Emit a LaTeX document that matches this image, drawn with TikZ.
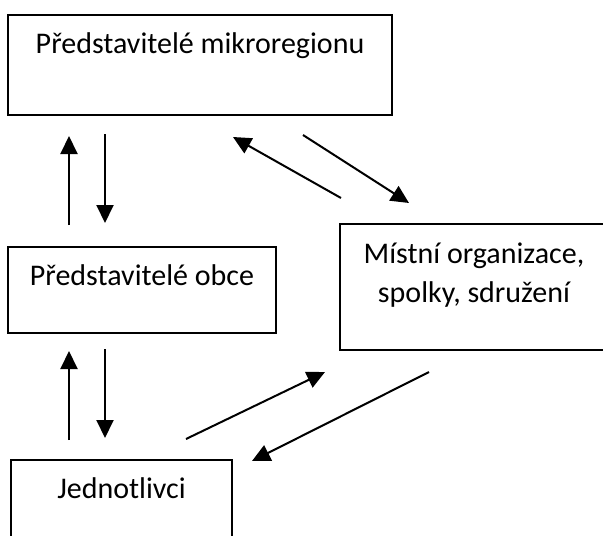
\documentclass[tikz,border=0pt]{standalone}
\usepackage{fontspec}
\setmainfont{Carlito}
\usetikzlibrary{arrows.meta}

\begin{document}
\begin{tikzpicture}[x=1pt,y=1pt,yscale=-1,
  box/.style={draw,line width=1.6pt,inner sep=0pt},
  lbl/.style={anchor=base,inner sep=0pt,font=\fontsize{30}{39}\selectfont},
  arr/.style={line width=2pt,-{Triangle[length=18pt,width=17pt]}}]
\useasboundingbox (0,0) rectangle (603,536);
\clip (0,0) rectangle (603,536);

%Shape: Rectangle
\node[box,minimum width=384pt,minimum height=100pt] (region) at (200,65) {};
%Shape: Rectangle
\node[box,minimum width=268pt,minimum height=86pt] (obce) at (142,290) {};
%Shape: Rectangle
\node[box,minimum width=268pt,minimum height=126pt] (mistni) at (474,287) {};
%Shape: Rectangle
\node[box,minimum width=221pt,minimum height=86pt] (jedn) at (121.5,503) {};

% Text Node
\node[lbl] (regiontext) at (200,53) {Představitelé mikroregionu};
% Text Node
\node[lbl] (obcetext) at (142,285) {Představitelé obce};
% Text Node (base = last line)
\node[lbl,align=center] (mistnitext) at (474,302) {Místní organizace,\\ spolky, sdružení};
% Text Node
\node[lbl] (jedntext) at (121.5,498) {Jednotlivci};

% Arrow ends
\coordinate (ob1) at (69,225);   \coordinate (re1) at (69,136);
\coordinate (re2) at (105,134);  \coordinate (ob2) at (105,223);
\coordinate (mi1) at (341,198);  \coordinate (re3) at (233,137);
\coordinate (re4) at (303,135);  \coordinate (mi2) at (409,203);
\coordinate (je1) at (69,440);   \coordinate (ob3) at (69,351);
\coordinate (ob4) at (105,349);  \coordinate (je2) at (105,438);
\coordinate (je3) at (186,439);  \coordinate (mi3) at (325,372);
\coordinate (mi4) at (429,372);  \coordinate (je4) at (252,461);

%Straight Lines
\draw[arr] (ob1) -- (re1);
\draw[arr] (re2) -- (ob2);
\draw[arr] (mi1) -- (re3);
\draw[arr] (re4) -- (mi2);
\draw[arr] (je1) -- (ob3);
\draw[arr] (ob4) -- (je2);
\draw[arr] (je3) -- (mi3);
\draw[arr] (mi4) -- (je4);

\end{tikzpicture}
\end{document}
